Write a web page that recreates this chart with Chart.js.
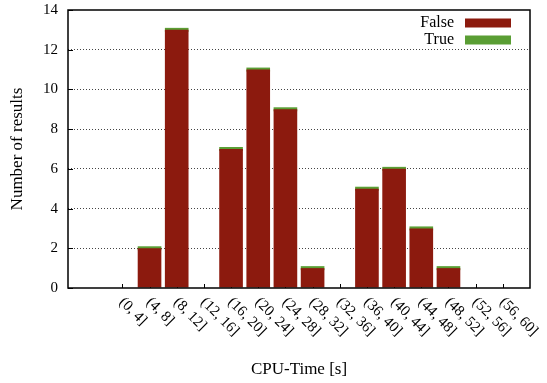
<!DOCTYPE html>
<html>
<head>
<meta charset="utf-8">
<script src="https://cdn.jsdelivr.net/npm/chart.js@4.4.1/dist/chart.umd.min.js"></script>
<style>
  html, body { margin: 0; padding: 0; background: #fff; }
  #wrap { width: 547px; height: 383px; }
</style>
</head>
<body>
<div id="wrap"><canvas id="resultsChart"></canvas></div>
<script>
  const binLabels = [
    '(0, 4]', '(4, 8]', '(8, 12]', '(12, 16]', '(16, 20]', '(20, 24]', '(24, 28]', '(28, 32]',
    '(32, 36]', '(36, 40]', '(40, 44]', '(44, 48]', '(48, 52]', '(52, 56]', '(56, 60]',
  ];
  const falseCounts = [0, 2, 13, 0, 7, 11, 9, 1, 0, 5, 6, 3, 1, 0, 0];
  // no "True" results at all; empty bins have nothing drawn
  const trueCounts = [null, 0, 0, null, 0, 0, 0, 0, null, 0, 0, 0, 0, null, null];
  const yMax = 14;

  const serif = '"Liberation Serif", "Times New Roman", serif';

  const toPoints = (values) => values.map((v, i) => ({ x: i, y: v }));

  const gnuplotFrame = {
    id: 'gnuplotFrame',
    beforeDatasetsDraw(chart) {
      const { ctx, chartArea: a, scales } = chart;
      ctx.save();
      ctx.strokeStyle = '#000';
      ctx.lineWidth = 1;
      ctx.beginPath();
      binLabels.forEach((_, i) => {
        const px = Math.round(scales.x.getPixelForValue(i)) + 0.5;
        ctx.moveTo(px, a.bottom);
        ctx.lineTo(px, a.bottom - 4);
      });
      scales.y.ticks.forEach((t) => {
        const py = Math.round(scales.y.getPixelForValue(t.value)) + 0.5;
        ctx.moveTo(a.left, py);
        ctx.lineTo(a.left + 5, py);
      });
      ctx.stroke();
      ctx.restore();
    },
    afterDatasetsDraw(chart) {
      const { ctx, chartArea: a, scales } = chart;
      ctx.save();
      ctx.strokeStyle = '#000';
      ctx.lineWidth = 1.5;
      ctx.strokeRect(a.left, a.top, a.right - a.left, a.bottom - a.top);

      // x tick labels, rotated down to the right
      ctx.fillStyle = '#000';
      ctx.font = '15px ' + serif;
      ctx.textAlign = 'left';
      ctx.textBaseline = 'middle';
      binLabels.forEach((label, i) => {
        ctx.save();
        ctx.translate(scales.x.getPixelForValue(i) - 1, a.bottom + 12);
        ctx.rotate(Math.PI / 4);
        ctx.fillText(label, 0, 0);
        ctx.restore();
      });

      // legend: text on the left, sample on the right
      ctx.font = '16px ' + serif;
      ctx.textAlign = 'right';
      chart.data.datasets.forEach((ds, i) => {
        const cy = a.top + 13 + i * 17;
        ctx.fillStyle = '#000';
        ctx.fillText(ds.label, a.right - 76, cy);
        ctx.fillStyle = ds.backgroundColor;
        ctx.fillRect(a.right - 65, cy - 4.5, 46, 9);
      });
      ctx.restore();
    },
  };

  const data = {
    datasets: [
      {
        label: 'False',
        data: toPoints(falseCounts),
        backgroundColor: '#8c1a0e',
        barPercentage: 0.87,
        categoryPercentage: 1,
      },
      {
        label: 'True',
        data: toPoints(trueCounts),
        backgroundColor: '#5a9e34',
        barPercentage: 0.87,
        categoryPercentage: 1,
        minBarLength: 4,
      },
    ],
  };

  const config = {
    type: 'bar',
    data,
    options: {
      responsive: true,
      maintainAspectRatio: false,
      animation: false,
      layout: { padding: { left: 0, right: 17, top: 10, bottom: 0 } },
      scales: {
        x: {
          type: 'linear',
          stacked: true,
          offset: false,
          min: -2,
          max: 15,
          ticks: { display: false },
          grid: { display: false },
          border: { display: false },
          title: {
            display: true,
            text: 'CPU-Time [s]',
            color: '#000',
            font: { family: serif, size: 17 },
            padding: { top: 0, bottom: 3 },
          },
          afterFit: (scale) => { scale.height = 95; },
        },
        y: {
          stacked: true,
          min: 0,
          max: yMax,
          ticks: {
            stepSize: 2,
            color: '#000',
            padding: 10,
            font: { family: serif, size: 15 },
          },
          grid: {
            drawTicks: false,
            lineWidth: 1,
            color: (ctx) => (ctx.tick.value === 0 || ctx.tick.value === yMax ? 'rgba(0,0,0,0)' : '#444'),
          },
          border: { display: false, dash: [1, 2] },
          title: {
            display: true,
            text: 'Number of results',
            color: '#000',
            font: { family: serif, size: 17 },
            padding: { top: 7, bottom: 0 },
          },
          afterFit: (scale) => {
            scale.width = 68;
            scale.paddingTop = 0;
            scale.paddingBottom = 0;
          },
        },
      },
      plugins: {
        legend: { display: false },
        tooltip: { enabled: false },
      },
    },
    plugins: [gnuplotFrame],
  };

  const resultsChart = new Chart(document.getElementById('resultsChart'), config);
</script>
</body>
</html>
